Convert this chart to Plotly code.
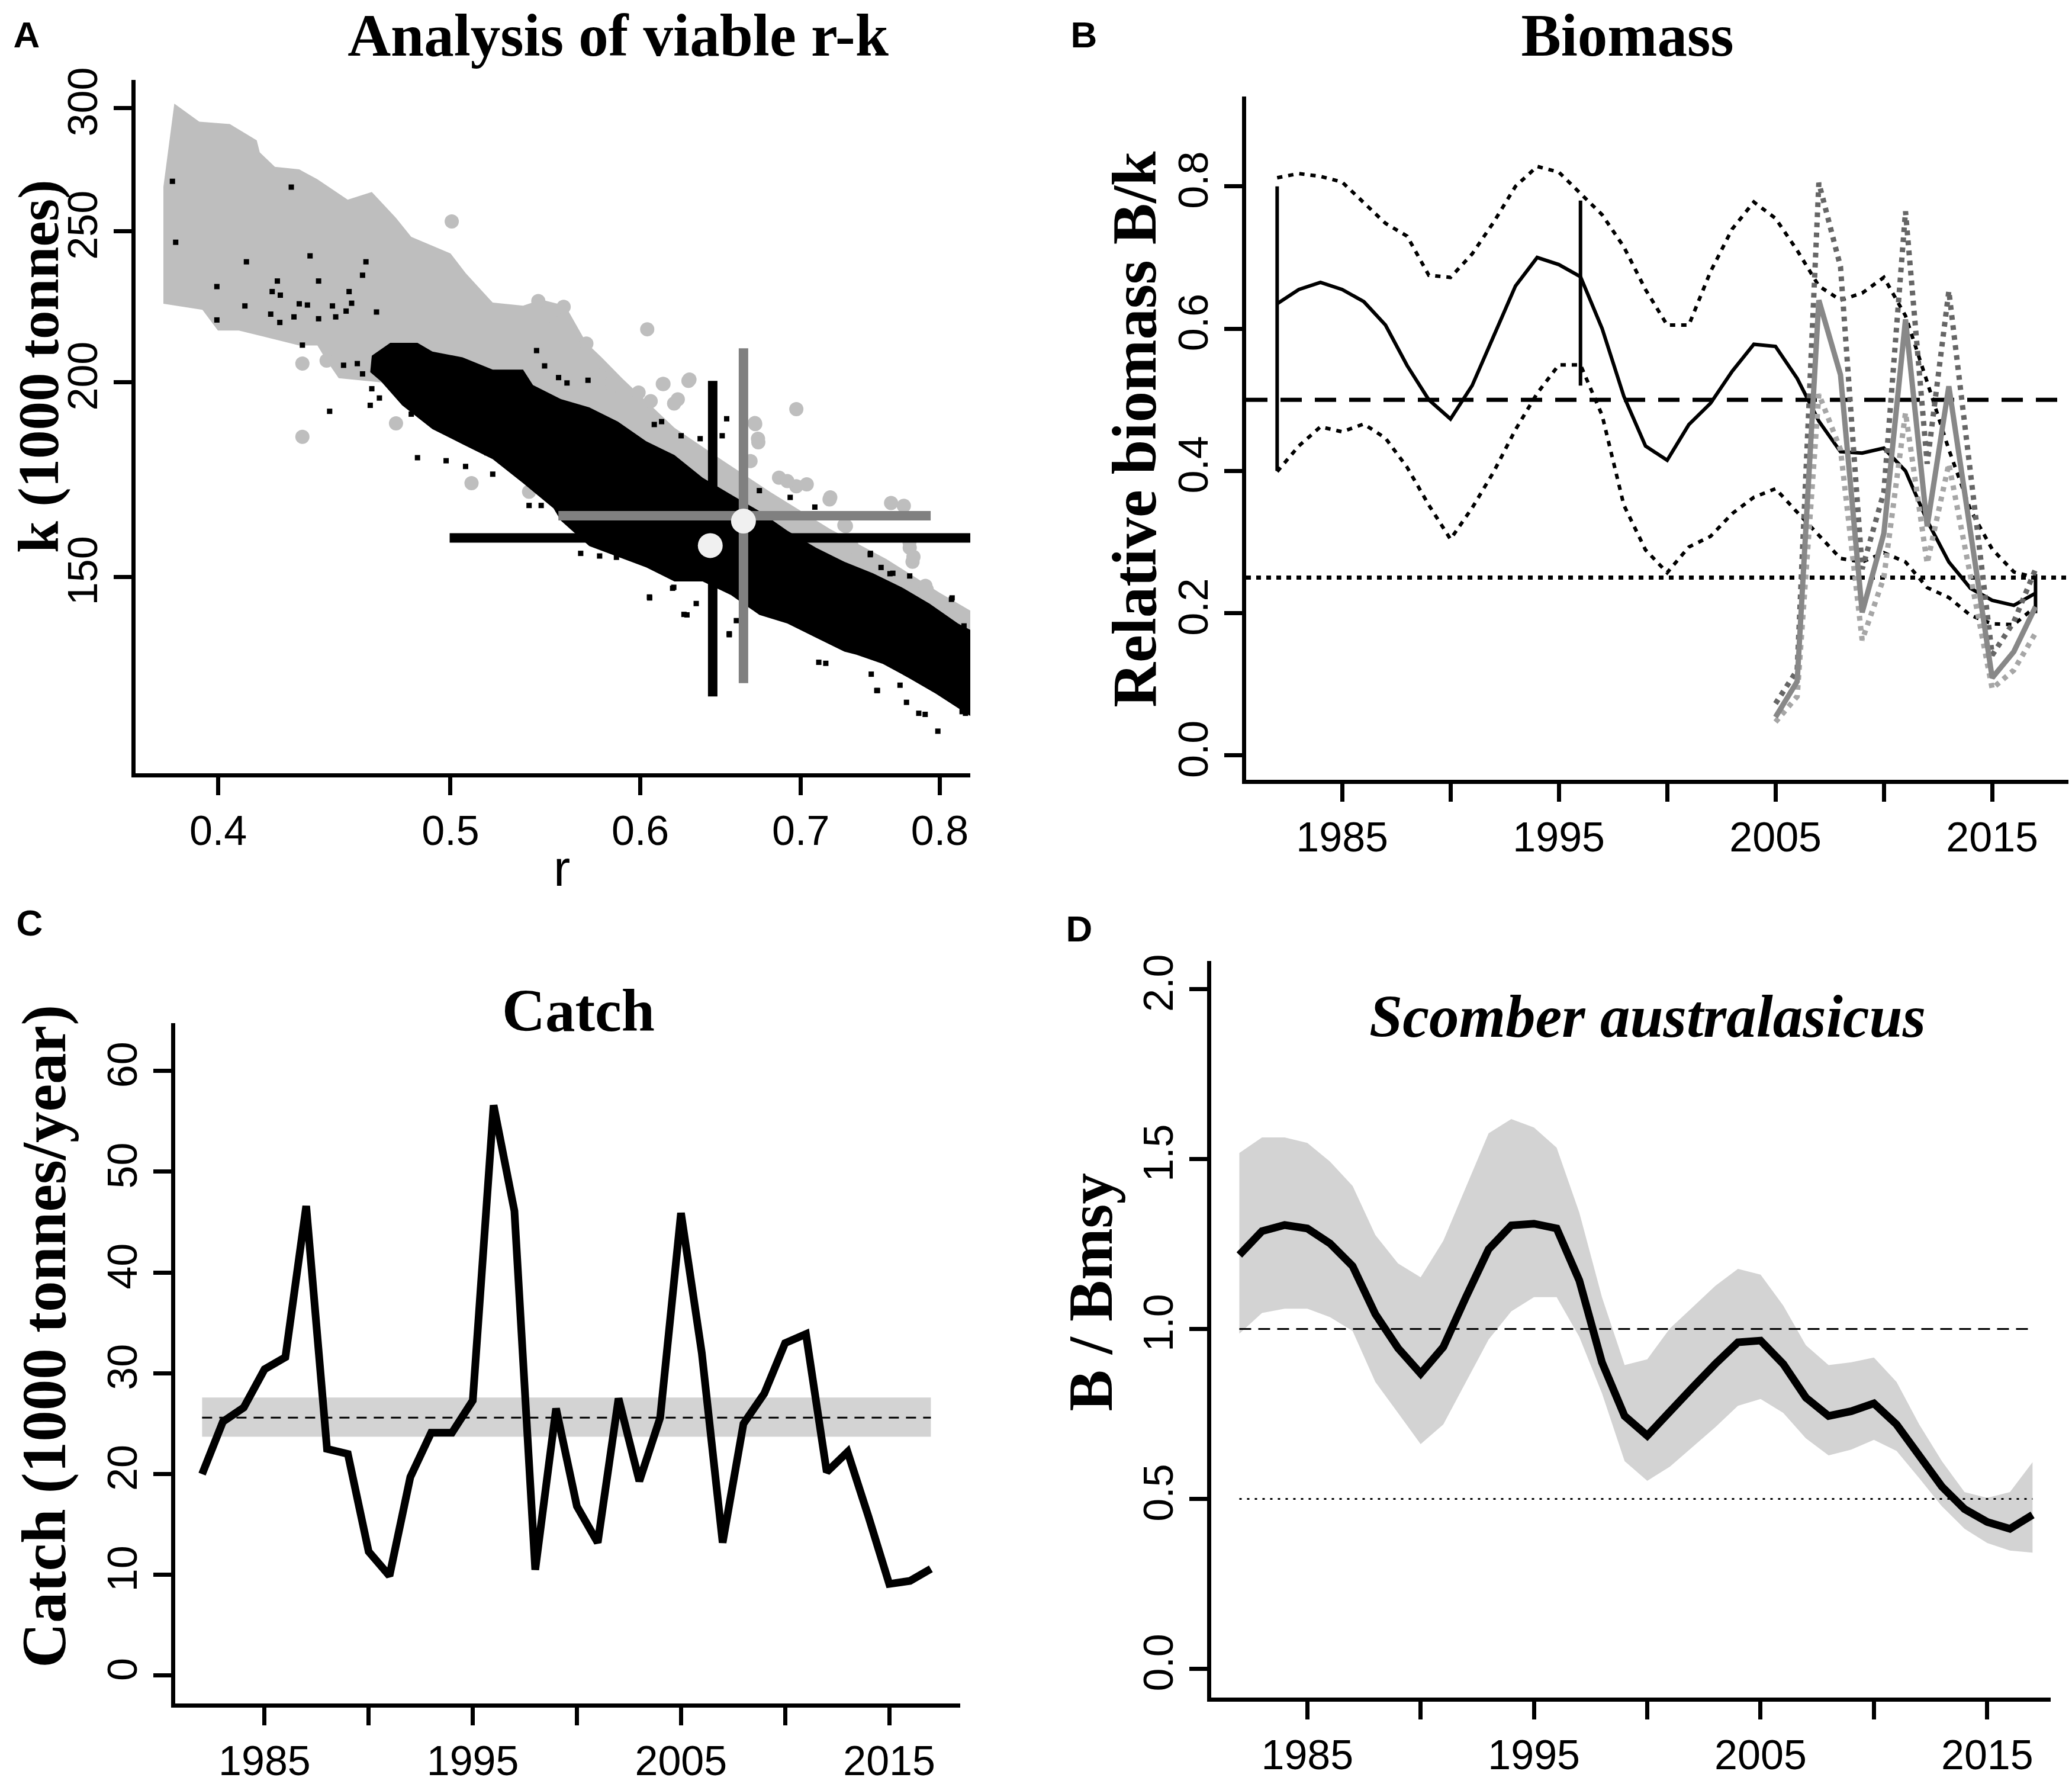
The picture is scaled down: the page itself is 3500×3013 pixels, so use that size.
import plotly.graph_objects as go

# ---------------- Panel A : viable r-k pairs (log axes) ----------------
# outline of the dense grey cloud (r, k)
grey_cloud_r = [0.3835, 0.3928, 0.4045, 0.4151, 0.4163, 0.4224, 0.4324, 0.4400, 0.4530, 0.4636, 0.4745,
                0.4815, 0.5000, 0.5074, 0.5207, 0.5361, 0.5455, 0.5583, 0.5697, 0.5781, 0.590, 0.620,
                0.650, 0.680, 0.720, 0.760, 0.800, 0.8251,
                0.8251, 0.700, 0.600, 0.520, 0.4677, 0.4491, 0.4439, 0.4400, 0.4324, 0.4176, 0.4080,
                0.3999, 0.3940, 0.3795, 0.3795]
grey_cloud_k = [302, 294, 293, 286, 281, 275, 274, 270, 262, 265, 255,
                248, 242, 235, 225, 224, 226, 224, 212, 207.5, 201, 187,
                178, 170, 161, 154, 146.5, 142.5,
                135, 150, 170, 190, 200, 201.2, 206.5, 211.2, 211.2, 214, 215.9,
                215.9, 222.6, 224.6, 267]
# loose grey points around the cloud
grey_pts_r = [0.5006, 0.4337, 0.4337, 0.4745, 0.4439, 0.5102, 0.5392,
              0.5440, 0.5574, 0.5537, 0.6040, 0.5697, 0.6131, 0.6284, 0.6198, 0.6970, 0.6698, 0.6718,
              0.6855, 0.6970, 0.7201, 0.7634, 0.7728, 0.7772, 0.7793, 0.7900, 0.7986, 0.7299, 0.7399,
              0.7603, 0.7196, 0.691, 0.704, 0.670, 0.672, 0.667, 0.731, 0.735, 0.777, 0.780, 0.789,
              0.797, 0.767, 0.757, 0.748, 0.629, 0.6135, 0.622, 0.606, 0.577, 0.584, 0.599]
grey_pts_k = [253.7, 205.6, 184.5, 188.2, 206.5, 172.3, 170.1,
              225.5, 223.6, 218.1, 216.3, 211.8, 199.5, 200.4, 193.8, 192.2, 188.3, 184.0,
              173.7, 171.5, 168.7, 167.3, 166.6, 156.6, 153.4, 147.2, 143.6, 161.9, 152.8,
              149.6, 168.2, 172.8, 172, 188, 183, 178, 161.7, 157, 158, 154.5, 148,
              144.2, 148.6, 150.7, 153.3, 200.8, 199.5, 195, 194.5, 202, 199, 197]
# outline of the dense black core
black_cloud_r = [0.4636, 0.4719, 0.4844, 0.4914, 0.5058, 0.5207, 0.5361, 0.5412, 0.5559, 0.5713, 0.5872,
                 0.6034, 0.6200, 0.6370, 0.6546, 0.6727, 0.6910, 0.7103, 0.7299, 0.7503, 0.7707, 0.7920,
                 0.8141, 0.8251,
                 0.8251, 0.7969, 0.7770, 0.7574, 0.7384, 0.7299, 0.7103, 0.6910, 0.6727, 0.6546, 0.6370,
                 0.6200, 0.6034, 0.5713, 0.5559, 0.5520, 0.5361, 0.5207, 0.5058, 0.4914, 0.4773, 0.4677,
                 0.4629]
black_cloud_k = [208, 212, 212, 209.3, 207.5, 203.8, 203.8, 199.2, 195.1, 192.7, 188.7,
                 183.3, 179.6, 173.7, 169.4, 165.3, 160.6, 156.6, 153.4, 150.8, 147.8, 144.2,
                 140.0, 138.5,
                 121.9, 126.2, 129.1, 131.9, 133.7, 134.3, 137.1, 140.0, 141.8, 146.0, 149.0,
                 149.0, 152.1, 157, 163, 166, 172.3, 178.5, 182.5, 186.6, 193.3, 200.3,
                 203]
# loose black points
black_pts_r = [0.3828, 0.3840, 0.4291, 0.4369, 0.4110, 0.4610, 0.4595, 0.4405, 0.4234, 0.3995, 0.4213,
               0.4246, 0.4536, 0.4324, 0.4358, 0.4104, 0.4464, 0.4547, 0.4523, 0.4207, 0.3995, 0.4244,
               0.4302, 0.4405, 0.4478, 0.4657, 0.4337, 0.4512, 0.4572, 0.4595, 0.4636, 0.4670, 0.4629,
               0.4452, 0.4844, 0.4979, 0.5073, 0.5207, 0.5392, 0.5455, 0.5503, 0.4914, 0.4815, 0.5000,
               0.5178, 0.5268,
               0.5431, 0.5473, 0.5547, 0.5592, 0.5706, 0.6081, 0.6124, 0.6519, 0.6491, 0.6240, 0.6355,
               0.6727, 0.6929, 0.7095, 0.7484, 0.7561, 0.7647, 0.7772, 0.8095, 0.8188, 0.5666, 0.5770,
               0.5864, 0.6054, 0.6189, 0.6331, 0.6275, 0.6535, 0.6580,
               0.7122, 0.7535, 0.7748, 0.7888, 0.8173, 0.8090, 0.7483, 0.7626, 0.8214, 0.6535, 0.6257,
               0.6053, 0.6196, 0.717, 0.784, 0.7985, 0.820, 0.753, 0.770, 0.749]
black_pts_k = [269.2, 246, 266.9, 241.1, 239.0, 239.0, 234.3, 232.3, 232.3, 230.4, 228.7,
               227.5, 228.7, 224.6, 224.2, 223.9, 223.9, 224.8, 222.2, 221.2, 219.3, 218.5,
               220.3, 219.7, 220.3, 221.9, 211.3, 205.1, 205.6, 202.5, 198.1, 195.4, 193.3,
               191.6, 178.9, 178.1, 176.6, 174.6, 166.7, 166.7, 169.3, 195.0, 190.8, 189.1,
               180.2, 177.8,
               209.6, 204.9, 201.4, 199.8, 200.6, 187.9, 188.7, 189.5, 184.8, 184.8, 184.0,
               170.4, 168.7, 166.3, 155.3, 152.1, 150.8, 150.2, 145.4, 139.5, 155.3, 154.7,
               154.4, 145.4, 147.5, 144.2, 141.8, 137.7, 140.6,
               132.2, 126.8, 124.6, 122.4, 122.9, 145.1, 155.0, 150.7, 137.9, 137.9, 141.9,
               145.6, 147.7, 132, 122.6, 119.4, 122.6, 126.8, 127.8, 129.9]
# CMSY (black) and BSM (grey) estimates: [low, best, high]
cmsy_r = [0.4996, 0.6432, 0.824]
cmsy_k = [125.7, 158.9, 200.4]
cmsy_pt = [0.6417, 157.1]
bsm_r = [0.5546, 0.6625, 0.793]
bsm_k = [128.2, 164.2, 210.3]
bsm_pt = [0.6625, 162.9]

# ---------------- Panel B : relative biomass B/k ----------------
years = list(range(1982, 2018))
bk_mid = [0.635, 0.655, 0.665, 0.655, 0.638, 0.605, 0.548, 0.500, 0.473, 0.520, 0.590, 0.660,
          0.700, 0.690, 0.673, 0.600, 0.505, 0.435, 0.415, 0.465, 0.495, 0.540, 0.578, 0.575,
          0.530, 0.470, 0.427, 0.425, 0.432, 0.400, 0.330, 0.272, 0.235, 0.218, 0.211, 0.228]
bk_up = [0.812, 0.818, 0.814, 0.806, 0.777, 0.748, 0.730, 0.675, 0.672, 0.705, 0.750, 0.800,
         0.828, 0.820, 0.790, 0.760, 0.715, 0.655, 0.605, 0.605, 0.680, 0.740, 0.778, 0.755,
         0.710, 0.660, 0.640, 0.650, 0.672, 0.618, 0.525, 0.430, 0.345, 0.290, 0.258, 0.250]
bk_lo = [0.399, 0.435, 0.462, 0.455, 0.466, 0.446, 0.405, 0.352, 0.304, 0.348, 0.399, 0.458,
         0.509, 0.549, 0.549, 0.478, 0.352, 0.289, 0.257, 0.293, 0.308, 0.340, 0.363, 0.375,
         0.342, 0.309, 0.277, 0.272, 0.285, 0.272, 0.236, 0.222, 0.197, 0.185, 0.184, 0.209]
years_bsm = list(range(2005, 2018))
bsm_mid = [0.054, 0.104, 0.640, 0.535, 0.201, 0.312, 0.613, 0.322, 0.519, 0.310, 0.109, 0.146, 0.209]
bsm_up = [0.073, 0.120, 0.805, 0.687, 0.262, 0.370, 0.765, 0.410, 0.653, 0.400, 0.141, 0.188, 0.262]
bsm_lo = [0.047, 0.083, 0.508, 0.430, 0.162, 0.250, 0.482, 0.270, 0.410, 0.250, 0.094, 0.120, 0.172]
prior_years = [1982, 1996, 2017]
prior_lo = [0.40, 0.52, 0.20]
prior_hi = [0.80, 0.78, 0.255]
bk_refs = [0.5, 0.25]

# ---------------- Panel C : catch ----------------
catch = [20.0, 25.2, 26.6, 30.4, 31.6, 46.6, 22.5, 22.0, 12.3, 9.9, 19.7, 24.1,
         24.1, 27.3, 56.6, 46.1, 10.5, 26.5, 16.8, 13.2, 27.5, 19.3, 25.6, 45.9,
         32.0, 13.2, 25.0, 28.0, 33.0, 33.9, 20.2, 22.2, 15.8, 9.1, 9.4, 10.6]
msy = [23.7, 25.6, 27.6]  # low, best, high

# ---------------- Panel D : B/Bmsy ----------------
bb_mid = [1.218, 1.288, 1.306, 1.296, 1.252, 1.185, 1.044, 0.944, 0.869, 0.947, 1.094, 1.235,
          1.305, 1.310, 1.296, 1.143, 0.902, 0.744, 0.686, 0.761, 0.828, 0.897, 0.961, 0.966,
          0.897, 0.798, 0.744, 0.758, 0.781, 0.719, 0.628, 0.536, 0.470, 0.432, 0.412, 0.453]
bb_up = [1.518, 1.564, 1.564, 1.548, 1.493, 1.421, 1.277, 1.193, 1.152, 1.260, 1.418, 1.576,
         1.618, 1.593, 1.534, 1.343, 1.094, 0.894, 0.911, 1.002, 1.064, 1.127, 1.177, 1.160,
         1.069, 0.952, 0.894, 0.902, 0.916, 0.844, 0.719, 0.611, 0.520, 0.503, 0.520, 0.608]
bb_lo = [0.986, 1.047, 1.060, 1.060, 1.035, 0.994, 0.844, 0.753, 0.661, 0.719, 0.844, 0.969,
         1.052, 1.094, 1.094, 0.977, 0.811, 0.611, 0.553, 0.595, 0.653, 0.711, 0.774, 0.794,
         0.753, 0.678, 0.628, 0.645, 0.674, 0.641, 0.561, 0.478, 0.412, 0.370, 0.348, 0.342]
bb_refs = [1.0, 0.5]

year_ticks = [1985, 1990, 1995, 2000, 2005, 2010, 2015]
year_text = ["1985", "", "1995", "", "2005", "", "2015"]

W, H = 3500, 3013
GREY = "#bebebe"
BAND = "#d3d3d3"
serif = "Liberation Serif"
sans = "Liberation Sans"

fig = go.Figure()

# --- A ---
fig.add_trace(go.Scatter(x=grey_cloud_r, y=grey_cloud_k, fill="toself", fillcolor=GREY,
                         mode="none", xaxis="x", yaxis="y"))
fig.add_trace(go.Scatter(x=grey_pts_r, y=grey_pts_k, mode="markers",
                         marker=dict(color=GREY, size=24, line_width=0), xaxis="x", yaxis="y"))
fig.add_trace(go.Scatter(x=black_cloud_r, y=black_cloud_k, fill="toself", fillcolor="black",
                         mode="none", xaxis="x", yaxis="y"))
fig.add_trace(go.Scatter(x=black_pts_r, y=black_pts_k, mode="markers",
                         marker=dict(color="black", size=9, symbol="square", line_width=0),
                         xaxis="x", yaxis="y"))
for rr, kk, col in [(cmsy_r, cmsy_k, "black"), (bsm_r, bsm_k, "#808080")]:
    fig.add_trace(go.Scatter(x=[rr[0], rr[2]], y=[kk[1], kk[1]], mode="lines",
                             line=dict(color=col, width=16), xaxis="x", yaxis="y"))
    fig.add_trace(go.Scatter(x=[rr[1], rr[1]], y=[kk[0], kk[2]], mode="lines",
                             line=dict(color=col, width=16), xaxis="x", yaxis="y"))
fig.add_trace(go.Scatter(x=[cmsy_pt[0], bsm_pt[0]], y=[cmsy_pt[1], bsm_pt[1]], mode="markers",
                         marker=dict(color="#f0f0f0", size=42, line_width=0), xaxis="x", yaxis="y"))

# --- B ---
fig.add_trace(go.Scatter(x=years, y=bk_up, mode="lines", line=dict(color="black", width=6, dash="9px,10px"),
                         xaxis="x2", yaxis="y2"))
fig.add_trace(go.Scatter(x=years, y=bk_lo, mode="lines", line=dict(color="black", width=6, dash="9px,10px"),
                         xaxis="x2", yaxis="y2"))
fig.add_trace(go.Scatter(x=years, y=bk_mid, mode="lines", line=dict(color="black", width=6),
                         xaxis="x2", yaxis="y2"))
for yr, lo, hi in zip(prior_years, prior_lo, prior_hi):
    fig.add_trace(go.Scatter(x=[yr, yr], y=[lo, hi], mode="lines", line=dict(color="black", width=6),
                             xaxis="x2", yaxis="y2"))
fig.add_trace(go.Scatter(x=years_bsm, y=bsm_up, mode="lines", line=dict(color="#666666", width=9, dash="8px,9px"),
                         xaxis="x2", yaxis="y2"))
fig.add_trace(go.Scatter(x=years_bsm, y=bsm_lo, mode="lines", line=dict(color="#a6a6a6", width=9, dash="8px,9px"),
                         xaxis="x2", yaxis="y2"))
fig.add_trace(go.Scatter(x=years_bsm, y=bsm_mid, mode="lines", line=dict(color="#888888", width=9),
                         xaxis="x2", yaxis="y2"))

# --- C ---
fig.add_trace(go.Scatter(x=[years[0], years[-1], years[-1], years[0]], y=[msy[0], msy[0], msy[2], msy[2]],
                         fill="toself", fillcolor=BAND, mode="none", xaxis="x3", yaxis="y3"))
fig.add_trace(go.Scatter(x=[years[0], years[-1]], y=[msy[1], msy[1]], mode="lines",
                         line=dict(color="black", width=3, dash="17px,12px"), xaxis="x3", yaxis="y3"))
fig.add_trace(go.Scatter(x=years, y=catch, mode="lines", line=dict(color="black", width=13),
                         xaxis="x3", yaxis="y3"))

# --- D ---
fig.add_trace(go.Scatter(x=years + years[::-1], y=bb_up + bb_lo[::-1], fill="toself", fillcolor=BAND,
                         mode="none", xaxis="x4", yaxis="y4"))
fig.add_trace(go.Scatter(x=[years[0], years[-1]], y=[bb_refs[0]] * 2, mode="lines",
                         line=dict(color="black", width=3, dash="20px,12px"), xaxis="x4", yaxis="y4"))
fig.add_trace(go.Scatter(x=[years[0], years[-1]], y=[bb_refs[1]] * 2, mode="lines",
                         line=dict(color="black", width=3, dash="4px,9px"), xaxis="x4", yaxis="y4"))
fig.add_trace(go.Scatter(x=years, y=bb_mid, mode="lines", line=dict(color="black", width=13),
                         xaxis="x4", yaxis="y4"))

# titles and panel letters on a full-page overlay (pixel positions, top-left origin)
head_text = ["<b>Analysis of viable r-k</b>", "<b>Biomass</b>", "<b>Catch</b>",
             "<b><i>Scomber australasicus</i></b>"]
head_x = [1044, 2749, 977, 2783]
head_y = [48, 48, 1715, 1725]
fig.add_trace(go.Scatter(x=head_x, y=head_y, text=head_text, mode="text", textposition="middle center",
                         textfont=dict(family=serif, size=101, color="black"), cliponaxis=False,
                         xaxis="x5", yaxis="y5"))
fig.add_trace(go.Scatter(x=[45, 1831, 50, 1823], y=[44, 44, 1562, 1572],
                         text=["<b>A</b>", "<b>B</b>", "<b>C</b>", "<b>D</b>"], mode="text",
                         textposition="middle center", textfont=dict(family=sans, size=62, color="black"),
                         cliponaxis=False, xaxis="x5", yaxis="y5"))

# reference lines of panel B across the whole plot width
shapes = [
    dict(type="line", xref="x2 domain", x0=0, x1=1, yref="y2", y0=bk_refs[0], y1=bk_refs[0],
         line=dict(color="black", width=7, dash="36px,22px"), layer="below"),
    dict(type="line", xref="x2 domain", x0=0, x1=1, yref="y2", y0=bk_refs[1], y1=bk_refs[1],
         line=dict(color="black", width=7, dash="8px,9px"), layer="below"),
]

tickfont = dict(family=sans, size=70, color="black")


def ax(**kw):
    base = dict(showline=True, linecolor="black", linewidth=7, ticks="outside", ticklen=30,
                tickwidth=7, tickcolor="black", showgrid=False, zeroline=False, tickfont=tickfont,
                ticklabelstandoff=0)
    base.update(kw)
    return base


def yax(**kw):
    return ax(tickangle=-90, **kw)


def px_x(a, b):
    return [a / W, b / W]


def px_y(top, bottom):
    return [1 - bottom / H, 1 - top / H]


fig.update_layout(
    width=W, height=H, margin=dict(l=0, r=0, t=0, b=0),
    paper_bgcolor="white", plot_bgcolor="rgba(0,0,0,0)", showlegend=False,
    xaxis=ax(domain=px_x(229, 1639), type="log", range=[-0.4324, -0.0842], anchor="y",
             tickvals=[0.4, 0.5, 0.6, 0.7, 0.8], ticktext=["0.4", "0.5", "0.6", "0.7", "0.8"]),
    yaxis=yax(domain=px_y(115, 1300), type="log", range=[2.050, 2.4953], anchor="x",
              tickvals=[150, 200, 250, 300], ticktext=["150", "200", "250", "300"]),
    xaxis2=ax(domain=px_x(2105, 3494), range=[1980.57, 2018.52], anchor="y2",
              tickvals=year_ticks, ticktext=year_text),
    yaxis2=yax(domain=px_y(144, 1311), range=[-0.034, 0.926], anchor="x2",
               tickvals=[0, 0.2, 0.4, 0.6, 0.8], ticktext=["0.0", "0.2", "0.4", "0.6", "0.8"]),
    xaxis3=ax(domain=px_x(296, 1622), range=[1980.71, 2018.41], anchor="y3",
              tickvals=year_ticks, ticktext=year_text),
    yaxis3=yax(domain=px_y(1727, 2890), range=[-2.79, 64.75], anchor="x3",
               tickvals=[0, 10, 20, 30, 40, 50, 60]),
    xaxis4=ax(domain=px_x(2046, 3464), range=[1980.76, 2017.8], anchor="y4",
              tickvals=year_ticks, ticktext=year_text),
    yaxis4=yax(domain=px_y(1621, 2879), range=[-0.084, 2.083], anchor="x4",
               tickvals=[0, 0.5, 1.0, 1.5, 2.0], ticktext=["0.0", "0.5", "1.0", "1.5", "2.0"]),
    xaxis5=dict(domain=[0, 1], range=[0, W], visible=False, anchor="y5"),
    yaxis5=dict(domain=[0, 1], range=[H, 0], visible=False, anchor="x5"),
    shapes=shapes,
)


def note(text, x, y, size, family, angle=0):
    fig.add_annotation(text=text, x=x / W, y=1 - y / H, xref="paper", yref="paper",
                       showarrow=False, textangle=angle, xanchor="center", yanchor="middle",
                       font=dict(family=family, size=size, color="black"))


# axis titles
note("<b>k (1000 tonnes)</b>", 66, 605, 97, serif, angle=-90)
note("r", 949, 1462, 85, sans)
note("<b>Relative biomass B/k</b>", 1917, 712, 105, serif, angle=-90)
note("<b>Catch (1000 tonnes/year)</b>", 75, 2262, 105, serif, angle=-90)
note("<b>B / Bmsy</b>", 1843, 2187, 105, serif, angle=-90)

# no page margin / scrollbars, so the figure fills the window exactly
page_fix = ("document.body.style.margin='0';document.body.style.overflow='hidden';"
            "document.documentElement.style.overflow='hidden';")
fig.write_html("out.html", post_script=page_fix, config={"displayModeBar": False})
